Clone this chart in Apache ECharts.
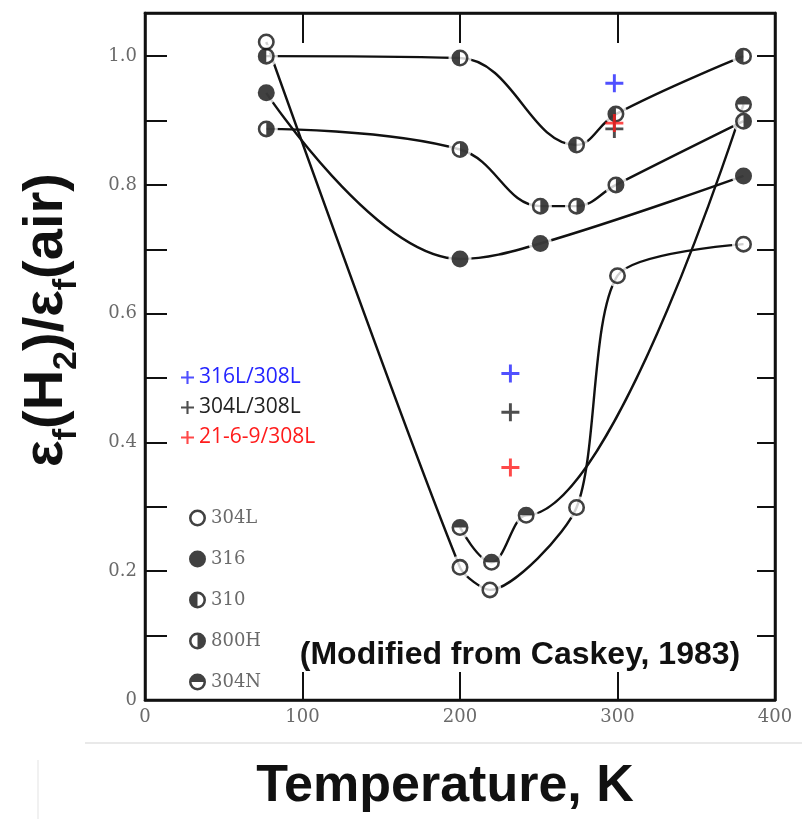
<!DOCTYPE html>
<html><head><meta charset="utf-8">
<script src="https://cdn.jsdelivr.net/npm/echarts@6/dist/echarts.min.js"></script>
<style>html,body{margin:0;padding:0;background:#fff}#c{width:802px;height:819px}</style>
</head><body><div id="c"></div>
<script>
// ---- data ----
const xTickValues = [0, 100, 200, 300, 400];
const xTickLabels = ['0', '100', '200', '300', '400'];
const yTickLabels = ['0', '0.2', '0.4', '0.6', '0.8', '1.0'];

const materials = ['304L', '316', '310', '800H', '304N'];
const t304L = [77, 200, 219, 274, 300, 380];
const v304L = [1.022, 0.206, 0.171, 0.299, 0.659, 0.708];
const t316 = [77, 200, 251, 380];
const v316 = [0.943, 0.685, 0.709, 0.814];
const t310 = [77, 200, 274, 299, 380];
const v310 = [1.0, 0.997, 0.862, 0.91, 1.0];
const t800H = [77, 200, 251, 274, 299, 380];
const v800H = [0.887, 0.855, 0.767, 0.767, 0.80, 0.899];
const t304N = [200, 220, 242, 380];
const v304N = [0.268, 0.214, 0.287, 0.925];

const weldNames = ['316L/308L', '304L/308L', '21-6-9/308L'];
const weldT = [232, 298];
const v316L308L = [0.507, 0.958];
const v304L308L = [0.447, 0.887];
const v21_6_9_308L = [0.361, 0.896];

// ---- styling ----
const OUT = 'M0,-10A10,10 0 1,1 0,10A10,10 0 1,1 0,-10Z';
const HOLE = 'M0,-7A7,7 0 1,0 0,7A7,7 0 1,0 0,-7Z';
const SYM = {
  '304L': 'path://' + OUT + HOLE,
  '316': 'path://' + OUT,
  '310': 'path://' + OUT + HOLE + 'M0,7A7,7 0 0,1 0,-7Z',
  '800H': 'path://' + OUT + HOLE + 'M0,-7A7,7 0 0,1 0,7Z',
  '304N': 'path://' + OUT + HOLE + 'M-7,0A7,7 0 0,1 7,0Z'
};
const SMOOTH = { '304L': [0.25, null], '316': [0.4, null], '310': [0.4, null], '800H': [0.4, null], '304N': [0.4, 'x'] };
const PLUS = 'path://M-1.3,-8H1.3V-1.3H8V1.3H1.3V8H-1.3V1.3H-8V-1.3H-1.3Z';
const weldColors = ['#2424ff', '#222222', '#ff1c1c'];
const tickFont = 'DejaVu Serif';
const gray = '#6a6a6a';

const matT = [t304L, t316, t310, t800H, t304N];
const matV = [v304L, v316, v310, v800H, v304N];
const weldV = [v316L308L, v304L308L, v21_6_9_308L];

const pairs = (T, V) => T.map((t, i) => [t, V[i]]);
const series = [];
materials.forEach((m, k) => {
  const d = pairs(matT[k], matV[k]);
  const ls = { name: m + ' curve', type: 'line', data: d, smooth: SMOOTH[m][0], showSymbol: false, silent: true,
    lineStyle: { color: '#111', width: 2.4 }, z: 2 };
  if (SMOOTH[m][1]) ls.smoothMonotone = SMOOTH[m][1];
  series.push(ls);
  series.push({ name: m + ' gap', type: 'scatter', data: d, symbol: 'circle', symbolSize: 23, silent: true,
    itemStyle: { color: '#fff' }, z: 3 });
  series.push({ name: m, type: 'scatter', data: d, symbol: SYM[m], symbolSize: 17, silent: true,
    itemStyle: { color: '#111' }, z: 4 });
});
weldNames.forEach((w, k) => {
  series.push({ name: w, type: 'scatter', data: pairs(weldT, weldV[k]), symbol: PLUS, symbolSize: 18, silent: true,
    itemStyle: { color: weldColors[k] }, z: 6 });
});

const yFmt = v => {
  const k = Math.round(v * 10);
  if (Math.abs(v * 10 - k) > 1e-6 || k % 2) return '';
  return yTickLabels[k / 2] || '';
};
const xFmt = v => { const i = xTickValues.indexOf(v); return i >= 0 ? xTickLabels[i] : ''; };

const axisLine = { show: true, onZero: false, lineStyle: { color: '#111', width: 2.5 } };
const option = {
  backgroundColor: '#fff',
  animation: false,
  grid: { left: 145, right: 27, top: 13, bottom: 119, show: true, borderColor: '#111', borderWidth: 2.5 },
  xAxis: [
    { type: 'value', min: 0, max: 400, interval: 100, position: 'bottom', axisLine,
      axisTick: { inside: true, length: 28, lineStyle: { color: '#111', width: 2 } },
      axisLabel: { formatter: xFmt, color: gray, fontFamily: tickFont, fontSize: 18, margin: 8 },
      splitLine: { show: false } },
    { type: 'value', min: 0, max: 400, interval: 100, position: 'top', axisLine,
      axisTick: { inside: true, length: 30, lineStyle: { color: '#111', width: 2 } },
      axisLabel: { show: false }, splitLine: { show: false } }
  ],
  yAxis: [
    { type: 'value', min: 0, max: 1.067, interval: 0.1, position: 'left', axisLine,
      axisTick: { inside: true, length: 22, lineStyle: { color: '#111', width: 2 } },
      axisLabel: { formatter: yFmt, color: gray, fontFamily: tickFont, fontSize: 18, margin: 8 },
      splitLine: { show: false } },
    { type: 'value', min: 0, max: 1.067, interval: 0.1, position: 'right', axisLine,
      axisTick: { inside: true, length: 18, lineStyle: { color: '#111', width: 2 } },
      axisLabel: { show: false }, splitLine: { show: false } }
  ],
  legend: [
    { orient: 'vertical', left: 184, top: 504, itemWidth: 17, itemHeight: 17, itemGap: 23, selectedMode: false,
      textStyle: { color: gray, fontFamily: tickFont, fontSize: 18 },
      data: materials.map(m => ({ name: m, icon: SYM[m] })) },
    { orient: 'vertical', left: 176, top: 362, itemWidth: 13, itemHeight: 13, itemGap: 9, selectedMode: false,
      textStyle: { fontFamily: 'Open Sans', fontSize: 21 },
      data: weldNames.map((w, k) => ({ name: w, icon: PLUS, textStyle: { color: weldColors[k] } })) }
  ],
  series,
  graphic: [
    { type: 'text', x: 47, y: 320, rotation: Math.PI / 2, silent: true,
      style: { text: '{e|ε}{s|f}{e|(H}{s|2}{e|)/ε}{s|f}{e|(air)}',
        align: 'center', verticalAlign: 'middle', textAlign: 'center', textVerticalAlign: 'middle',
        rich: {
          e: { fontSize: 56, fontWeight: 'bold', fontFamily: 'Liberation Sans', fill: '#111' },
          s: { fontSize: 34, fontWeight: 'bold', fontFamily: 'Liberation Sans', fill: '#111', padding: [40, 0, 0, 0] }
        } } },
    { type: 'text', x: 445, y: 787, silent: true,
      style: { text: 'Temperature, K', fontSize: 52, fontWeight: 'bold', fontFamily: 'Liberation Sans', fill: '#111',
        align: 'center', verticalAlign: 'middle', textAlign: 'center', textVerticalAlign: 'middle' } },
    { type: 'text', x: 520, y: 655, silent: true, z: 10,
      style: { text: '(Modified from Caskey, 1983)', fontSize: 32, fontWeight: 'bold', fontFamily: 'Liberation Sans', fill: '#111',
        align: 'center', verticalAlign: 'middle', textAlign: 'center', textVerticalAlign: 'middle' } },
    { type: 'line', silent: true, shape: { x1: 85, y1: 743, x2: 802, y2: 743 }, style: { stroke: '#e2e2e2', lineWidth: 1.5 } },
    { type: 'line', silent: true, shape: { x1: 38, y1: 760, x2: 38, y2: 819 }, style: { stroke: '#ececec', lineWidth: 1.5 } }
  ]
};
const chart = echarts.init(document.getElementById('c'), null, { renderer: 'canvas' });
chart.setOption(option);
</script>
</body></html>
